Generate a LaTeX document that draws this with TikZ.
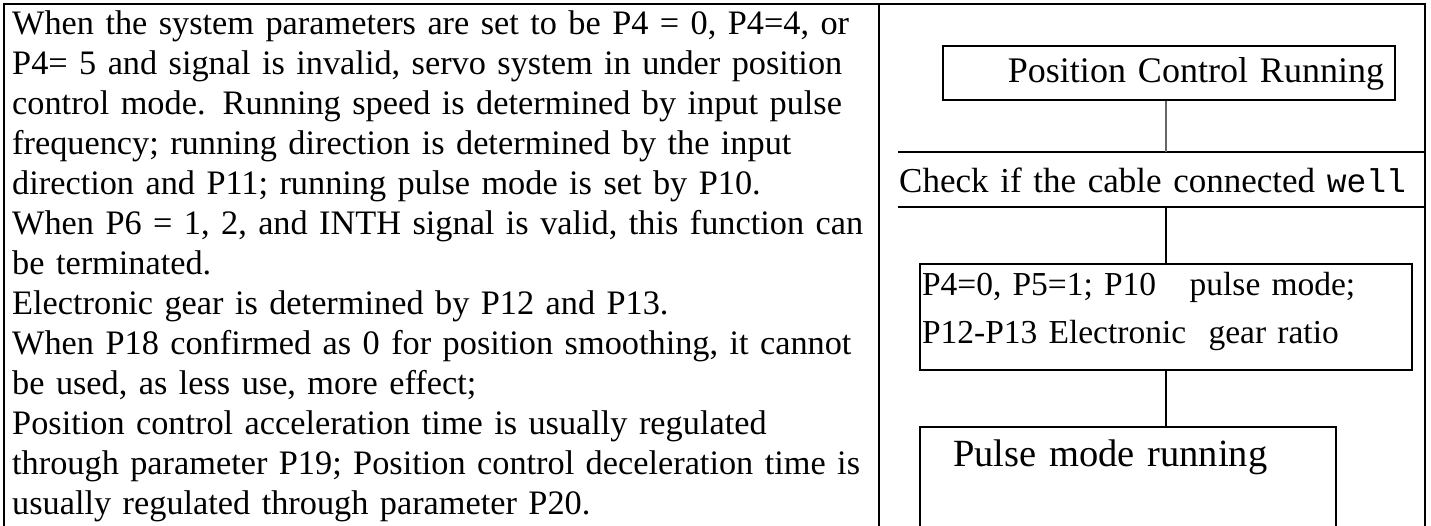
\documentclass[tikz,border=0pt]{standalone}
\usepackage{fontspec}
\setmainfont{Liberation Serif}
\setmonofont{Liberation Mono}
\usetikzlibrary{positioning}
\tikzset{
  frame/.style={line width=2pt, line cap=rect},
  desc/.style={text width=866pt, align=left, inner sep=0pt, font=\fontsize{34.3}{40}\selectfont},
  flowbox/.style={draw, line width=2pt, inner ysep=0pt},
  link/.style={line width=2pt},
  greylink/.style={line width=2pt, draw=black!60}
}
\begin{document}
\begin{tikzpicture}[x=1pt, y=1pt]
\useasboundingbox (0,0) rectangle (1431,525);
\clip (0,0) rectangle (1431,525);
% table frame, open at the bottom
\draw[frame] (4,-5) -- (4,521) -- (1425,521) -- (1425,-5);
\draw[frame] (879,521) -- (879,-5);

% left cell: description
\node[desc, anchor=base west] (desc) at (12,490) {When the system parameters are set to be P4 = 0, P4=4, or\\
P4= 5 and signal is invalid, servo system in under position\\
control mode. Running speed is determined by input pulse\\
frequency; running direction is determined by the input\\
direction and P11; running pulse mode is set by P10.\\
When P6 = 1, 2, and INTH signal is valid, this function can\\
be terminated.\\
Electronic gear is determined by P12 and P13.\\
When P18 confirmed as 0 for position smoothing, it cannot\\
be used, as less use, more effect;\\
Position control acceleration time is usually regulated\\
through parameter P19; Position control deceleration time is\\
usually regulated through parameter P20.};

% right cell: flow chart
\node[flowbox, anchor=north west, text width=430pt, align=right, inner xsep=11pt,
  text height=37pt, text depth=17pt, font=\fontsize{36}{40}\selectfont] (run) at (942,480) {Position Control Running};
\node[anchor=north west, text width=560pt, align=left, inner xsep=1pt, inner ysep=0pt,
  text height=40pt, text depth=15pt, font=\fontsize{35}{40}\selectfont] (chk) at (898,373) {Check if the cable connected {\fontsize{33}{40}\selectfont\ttfamily well}};
\node[flowbox, anchor=north west, text width=488pt, align=left, inner xsep=2pt,
  text height=32pt, text depth=74pt, font=\fontsize{33.5}{48}\selectfont] (pset) at (919,262) {P4=0, P5=1; P10\ \ \ pulse mode;\\P12-P13 Electronic\ \ gear ratio};
\node[flowbox, below=55pt of pset.south west, anchor=north west, text width=350pt, align=left, inner xsep=33pt,
  text height=39pt, text depth=120pt, font=\fontsize{38.5}{44}\selectfont] (pulse) {Pulse mode running};

\draw[link] (chk.north west) -- (chk.north west -| 1425,0);
\draw[link] (chk.south west) -- (chk.south west -| 1425,0);
\draw[greylink] (run.south -| pset.north) -- (chk.north -| pset.north);
\draw[link] (chk.south -| pset.north) -- (pset.north);
\draw[link] (pset.south) -- (pulse.north -| pset.south);
\end{tikzpicture}
\end{document}
